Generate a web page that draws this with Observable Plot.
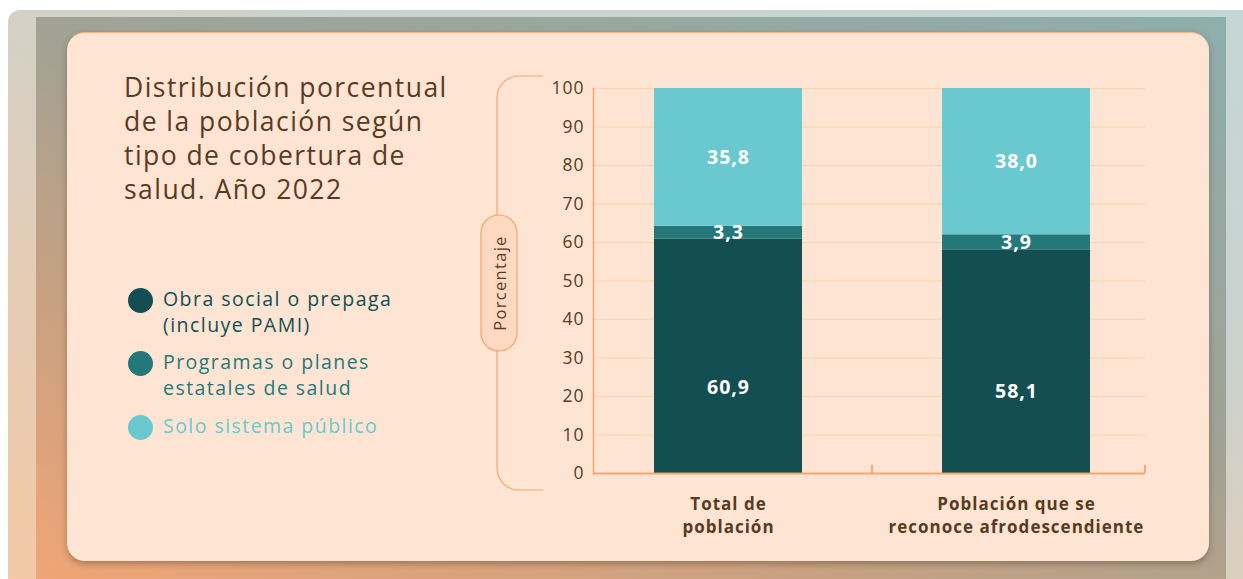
<!DOCTYPE html>
<html>
<head>
<meta charset="utf-8">
<script src="https://cdn.jsdelivr.net/npm/d3@7"></script>
<script src="https://cdn.jsdelivr.net/npm/@observablehq/plot@0.6"></script>
<style>
  html, body { margin: 0; padding: 0; background: #ffffff; }
  body { width: 1243px; height: 579px; overflow: hidden; position: relative; font-family: "Open Sans", "Noto Sans", sans-serif; }
  #outer { position: absolute; left: 8px; top: 10px; width: 1235px; height: 569px; border-top-left-radius: 12px;
    background: linear-gradient(20deg, #f3c9a6 0%, #e2cdb8 35%, #c9d3cf 70%, #c4d6d5 100%); }
  #inner { position: absolute; left: 36px; top: 17px; width: 1190px; height: 562px;
    background: linear-gradient(20deg, #f0a576 0%, #c6a182 30%, #a2a294 55%, #8eaead 100%); }
  #card { position: absolute; left: 67px; top: 32px; width: 1142px; height: 528px; border-radius: 18px;
    background: #fee5d3; border-top: 1px solid #f8b27f; box-shadow: 0 3px 6px rgba(60,40,20,0.35); }
  #title { position: absolute; left: 124px; top: 70px; font-size: 26.5px; line-height: 34px; color: #5b3a1f; letter-spacing: 1.45px; }
  .leg { position: absolute; left: 128px; font-size: 19.5px; line-height: 26px; letter-spacing: 1.45px; }
  .leg .dot { position: absolute; left: 0; top: 1px; width: 25px; height: 25px; border-radius: 50%; }
  .leg .txt { position: absolute; left: 35px; top: -1px; white-space: nowrap; }
  #chart { position: absolute; left: 480px; top: 70px; }
  #deco { position: absolute; left: 470px; top: 60px; }
</style>
</head>
<body>
<div id="outer"></div>
<div id="inner"></div>
<div id="card"></div>
<div id="title"></div>
<div id="legend"></div>
<svg id="deco" width="100" height="450"></svg>
<div id="chart"></div>
<script>
// ---- Data ----
const categories = ["Total de\npoblación", "Población que se\nreconoce afrodescendiente"];
const seriesNames = ["Obra social o prepaga\n(incluye PAMI)", "Programas o planes\nestatales de salud", "Solo sistema público"];
const seriesColors = ["#124e52", "#25787a", "#69c9cf"];
const obraSocial = [60.9, 58.1];
const programas = [3.3, 3.9];
const soloPublico = [35.8, 38.0];
const yTicks = [0, 10, 20, 30, 40, 50, 60, 70, 80, 90, 100];
const titleText = "Distribución porcentual\nde la población según\ntipo de cobertura de\nsalud. Año 2022";
const yLabel = "Porcentaje";

// ---- Build table ----
const seriesValues = [obraSocial, programas, soloPublico];
const rows = [];
categories.forEach((c, i) => {
  let acc = 0;
  seriesValues.forEach((vals, s) => {
    const v = vals[i];
    rows.push({cat: c, serie: seriesNames[s], s, value: v, y1: acc, y2: acc + v});
    acc += v;
  });
});
const fmt = v => v.toFixed(1).replace(".", ",");

// ---- Title & legend ----
document.getElementById("title").innerHTML = titleText.split("\n").join("<br>");
const legendTops = [287, 350, 414];
const legend = document.getElementById("legend");
seriesNames.forEach((n, i) => {
  const d = document.createElement("div");
  d.className = "leg";
  d.style.top = legendTops[i] + "px";
  d.style.color = seriesColors[i];
  d.innerHTML = `<div class="dot" style="background:${seriesColors[i]}"></div><div class="txt">${n.split("\n").join("<br>")}</div>`;
  legend.appendChild(d);
});

// ---- Chart ----
const brown = "#5a3a21";
const orange = "#f5a46a";
const chart = Plot.plot({
  width: 690,
  height: 480,
  marginLeft: 113,
  marginRight: 25,
  marginTop: 18,
  marginBottom: 77,
  style: {background: "transparent", fontFamily: "'Open Sans', sans-serif", overflow: "visible", letterSpacing: "1px"},
  x: {domain: categories, paddingInner: 0.486, paddingOuter: 0.2, align: 0.53, label: null},
  y: {domain: [0, 100], label: null},
  color: {domain: seriesNames, range: seriesColors},
  marks: [
    Plot.gridY(yTicks.filter(t => t > 0), {stroke: "#fcd2b0", strokeOpacity: 1, strokeWidth: 1.2}),
    Plot.barY(rows, {x: "cat", y1: "y1", y2: "y2", fill: "serie"}),
    Plot.text(rows, {
      x: "cat",
      y: d => d.s === 0 ? d.y1 + (d.y2 - d.y1) * 0.365 : (d.y1 + d.y2) / 2,
      text: d => fmt(d.value),
      fill: "white", fontSize: 19.5, fontWeight: "bold"
    }),
    Plot.frame({anchor: "left", stroke: orange, strokeWidth: 1.5}),
    Plot.ruleY([0], {stroke: orange, strokeWidth: 1.8}),
    Plot.axisY({ticks: yTicks, tickSize: 0, tickPadding: 9, fontSize: 17.5, fill: brown, label: null}),
    Plot.axisX({tickSize: 0, tickPadding: 20, fontSize: 17, fontWeight: "bold", fill: brown, lineHeight: 1.35, label: null})
  ]
});
document.getElementById("chart").appendChild(chart);

// small separator ticks on the x axis, placed from the band scale
{
  const xs = chart.scale("x");
  const ys = chart.scale("y");
  const bw = xs.bandwidth, st = xs.step;
  const y0 = ys.apply(0);
  const tickXs = [xs.apply(categories[0]) + bw + (st - bw) / 2, xs.range[1]];
  const g = d3.select(chart).append("g");
  tickXs.forEach(tx => {
    g.append("line").attr("x1", tx).attr("x2", tx).attr("y1", y0).attr("y2", y0 - 8)
      .attr("stroke", orange).attr("stroke-width", 1.8);
  });
}

// bracket + pill axis label
{
  const svg = d3.select("#deco");
  const r = 22;
  const bx = 27, top = 16, bot = 430, ex = 73;
  svg.append("path")
    .attr("d", `M${ex},${top} H${bx + r} A${r},${r} 0 0 0 ${bx},${top + r} V${bot - r} A${r},${r} 0 0 0 ${bx + r},${bot} H${ex}`)
    .attr("fill", "none").attr("stroke", orange).attr("stroke-width", 1.2);
  const px = 11, pw = 36, py = 155, ph = 136;
  svg.append("rect").attr("x", px).attr("y", py).attr("width", pw).attr("height", ph)
    .attr("rx", pw / 2).attr("fill", "#fdd9c2").attr("stroke", orange).attr("stroke-width", 1.2);
  svg.append("text").attr("transform", `translate(${px + pw / 2},${py + ph / 2}) rotate(-90)`)
    .attr("text-anchor", "middle").attr("dominant-baseline", "central")
    .attr("font-size", 16.5).attr("letter-spacing", "1.3px").attr("fill", brown)
    .attr("font-family", "'Open Sans', sans-serif")
    .text(yLabel);
}
</script>
</body>
</html>
